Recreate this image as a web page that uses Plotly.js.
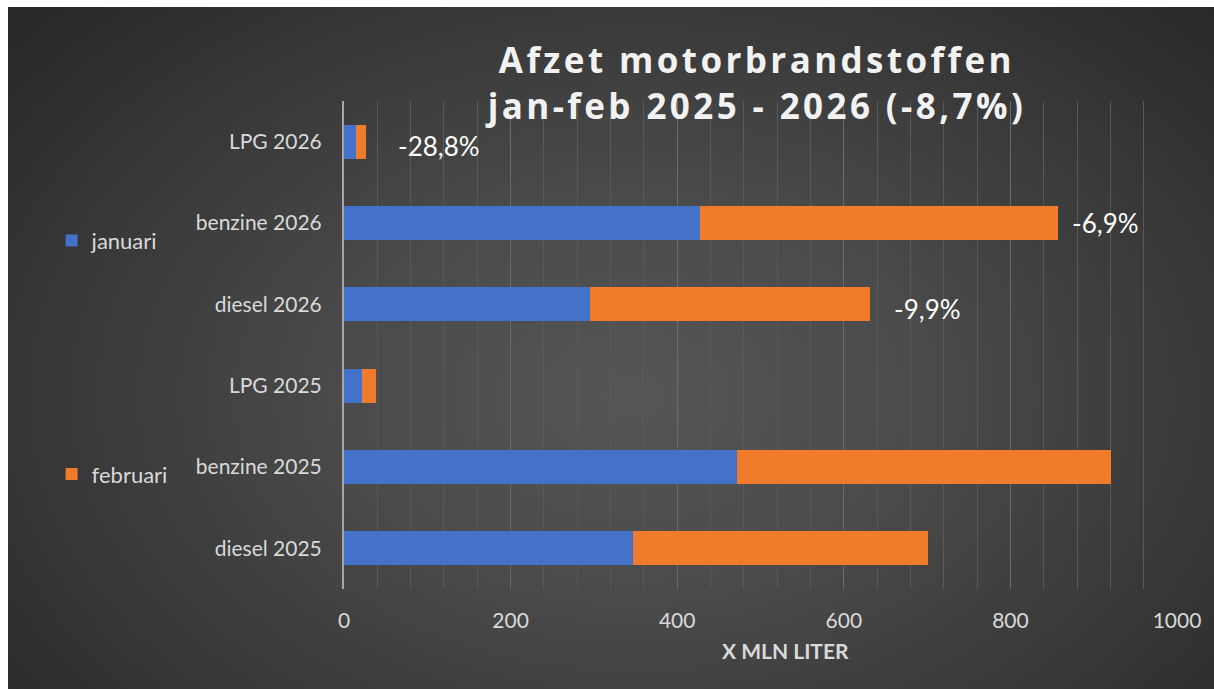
<!DOCTYPE html>
<html>
<head>
<meta charset="utf-8">
<script src="https://cdn.plot.ly/plotly-3.0.1.min.js"></script>
<style>
  html, body { margin: 0; padding: 0; background: #ffffff; }
  #wrap { position: absolute; left: 8px; top: 7px; width: 1206px; height: 682px;
    background: radial-gradient(ellipse 70% 85% at 52% 57%, #565656 0%, #4a4a4a 35%, #373737 70%, #272727 100%); }
  #chart { width: 1206px; height: 682px; }
  .gtitle { letter-spacing: 3.4px; }
</style>
</head>
<body>
<div id="wrap"><div id="chart"></div></div>
<script>
const categories = ["diesel 2025", "benzine 2025", "LPG 2025", "diesel 2026", "benzine 2026", "LPG 2026"];
const januari = [347, 472, 22, 295, 427, 14];
const februari = [354, 449, 17, 336, 430, 13];
const changeLabels = ["", "", "", "-9,9%", "-6,9%", "-28,8%"];
const labelShift = [0, 0, 0, 22, 12, 30];
const labelYShift = [0, 0, 0, -5, 0, -4];

const totals = categories.map((c, i) => januari[i] + februari[i]);

const traces = [
  { type: 'bar', orientation: 'h', name: 'januari', y: categories, x: januari,
    marker: { color: '#4472c8' }, legendgroup: 'a', hoverinfo: 'x+y+name' },
  { type: 'bar', orientation: 'h', name: 'februari', y: categories, x: februari,
    marker: { color: '#f07b2a' }, legendgroup: 'b', hoverinfo: 'x+y+name' }
];

const annotations = [];
categories.forEach((c, i) => {
  if (changeLabels[i]) {
    annotations.push({ x: totals[i], y: c, xref: 'x', yref: 'y', text: changeLabels[i],
      showarrow: false, xanchor: 'left', xshift: labelShift[i], yshift: labelYShift[i],
      font: { family: 'Lato, sans-serif', size: 26, color: '#ffffff' } });
  }
});
annotations.push({ x: 0.53, y: -0.127, xref: 'paper', yref: 'paper', text: '<b>X MLN LITER</b>',
  showarrow: false, xanchor: 'center', yanchor: 'middle',
  font: { family: 'Lato, sans-serif', size: 21, color: '#d9d9d9' } });

const tickFont = { family: 'Lato, sans-serif', size: 21, color: '#d9d9d9' };

const layout = {
  width: 1206, height: 682,
  paper_bgcolor: 'rgba(0,0,0,0)', plot_bgcolor: 'rgba(0,0,0,0)',
  margin: { l: 336, r: 37, t: 94, b: 100 },
  barmode: 'stack', bargap: 0.58,
  title: { text: '<b>Afzet motorbrandstoffen<br>jan-feb 2025 - 2026 (-8,7%)</b>',
    x: 0.621, xref: 'container', xanchor: 'center', y: 0.903, yref: 'container', yanchor: 'top',
    font: { family: 'Open Sans, sans-serif', size: 35, color: '#f2f2f2' } },
  xaxis: { range: [0, 1000], dtick: 200, tick0: 0, showgrid: true, gridcolor: '#6b6b6b', gridwidth: 1,
    minor: { dtick: 40, showgrid: true, gridcolor: '#595959', gridwidth: 1 },
    zeroline: false, showline: false, ticks: '', ticklabelstandoff: 17,
    tickfont: tickFont, fixedrange: true },
  yaxis: { type: 'category', categoryorder: 'array', categoryarray: categories,
    showgrid: false, zeroline: false, showline: true, linecolor: '#a6a6a6', linewidth: 2,
    ticks: '', ticklabelstandoff: 16,
    tickfont: tickFont, fixedrange: true },
  showlegend: true,
  legend: { x: -0.351, xanchor: 'left', y: 0.757, yanchor: 'top', traceorder: 'grouped',
    tracegroupgap: 202, bgcolor: 'rgba(0,0,0,0)',
    font: { family: 'Lato, sans-serif', size: 22, color: '#d9d9d9' } },
  annotations: annotations
};

Plotly.newPlot('chart', traces, layout, { displayModeBar: false, staticPlot: true });
</script>
</body>
</html>
